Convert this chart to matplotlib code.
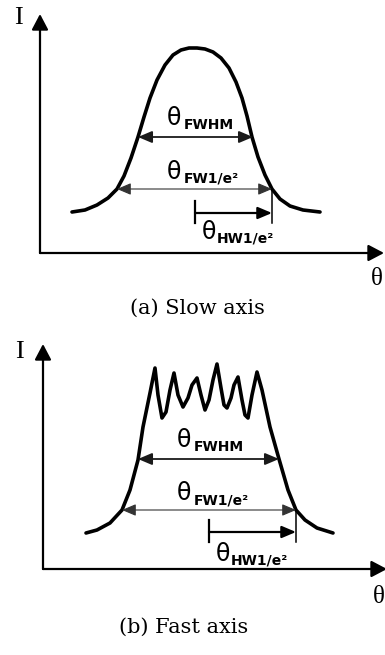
import matplotlib.pyplot as plt

# Schematic far-field profiles (pixel units, y down)
slow_x = [72, 85, 97, 108, 117, 124, 131, 138, 144, 150, 157, 165, 173, 181, 189,
          197, 205, 213, 221, 229, 236, 242, 247, 252, 258, 265, 272, 280, 290, 303, 320]
slow_y = [212, 210, 205, 198, 189, 176, 158, 137, 117, 98, 80, 65, 55, 50, 48,
          48, 49, 52, 58, 68, 82, 98, 116, 137, 157, 175, 189, 199, 206, 210, 212]

fast_x = [86, 97, 110, 122, 130, 138, 143, 150, 155, 158, 162, 166, 170, 174, 178,
          183, 188, 192, 197, 201, 205, 209, 213, 217, 221, 224, 227, 231, 234, 238,
          242, 245, 248, 252, 257, 262, 270, 279, 288, 296, 305, 317, 333]
fast_y = [533, 530, 523, 510, 490, 460, 427, 393, 368, 395, 418, 412, 390, 373, 395,
          407, 398, 385, 378, 395, 410, 400, 380, 364, 388, 405, 408, 398, 385, 377,
          400, 415, 418, 395, 372, 390, 427, 459, 490, 510, 520, 528, 533]

# panel axes: origin, y-arrow tip, x-arrow tip
slow_axes = [(40, 253), (40, 14), (384, 253)]
fast_axes = [(43, 569), (43, 344), (387, 569)]

# width markers: (x_left, x_right, y)
slow_fwhm = (138, 253, 137)
slow_fw = (117, 272, 189)
slow_hw = (195, 272, 213)
fast_fwhm = (138, 279, 459)
fast_fw = (122, 296, 510)
fast_hw = (209, 296, 532)

fig = plt.figure(figsize=(3.85, 6.55), dpi=100)
ax = fig.add_axes([0, 0, 1, 1])
ax.set_xlim(0, 385)
ax.set_ylim(655, 0)
ax.axis("off")


def arrow(p0, p1, style, lw, color="black", hl=0.9, hw=0.5):
    ax.annotate("", xy=p1, xytext=p0, annotation_clip=False,
                arrowprops=dict(arrowstyle=f"{style},head_length={hl},head_width={hw}",
                                lw=lw, color=color, shrinkA=0, shrinkB=0,
                                mutation_scale=10))


def panel(cx, cy, axes_pts, fwhm, fw, hw, ilab, tlab, caption, cap_y, lab_dy):
    o, ytip, xtip = axes_pts
    arrow(o, ytip, "-|>", 1.6, hl=0.95, hw=0.5)
    arrow(o, xtip, "-|>", 1.6, hl=0.95, hw=0.5)
    ax.plot(cx, cy, color="black", lw=2.6, solid_joinstyle="round",
            solid_capstyle="round")

    arrow((fwhm[0], fwhm[2]), (fwhm[1], fwhm[2]), "<|-|>", 1.3, "#1a1a1a", 0.85, 0.36)
    arrow((fw[0], fw[2]), (fw[1], fw[2]), "<|-|>", 0.8, "#333333", 0.85, 0.36)
    arrow((hw[0], hw[2]), (hw[1], hw[2]), "-|>", 1.6, "black", 0.85, 0.36)
    ax.plot([hw[0], hw[0]], [hw[2] - 12, hw[2] + 10], color="black", lw=1.6)
    ax.plot([fw[1], fw[1]], [fw[2], hw[2] + 10], color="black", lw=1.1)

    # labels
    tx = fwhm[0] + 29 if fwhm[1] - fwhm[0] < 130 else fwhm[0] + 39
    for (y, sub) in [(fwhm[2] - 19, "FWHM"), (fw[2] - 17, "FW1/e\u00b2")]:
        ax.text(tx, y, "\u03b8", fontsize=17, ha="left", va="center")
        ax.text(tx + 17, y + 7, sub, fontsize=10, fontweight="bold",
                ha="left", va="center")
    ax.text(hw[0] + 7, hw[2] + lab_dy, "\u03b8", fontsize=17, ha="left", va="center")
    ax.text(hw[0] + 22, hw[2] + lab_dy + 7, "HW1/e\u00b2", fontsize=10,
            fontweight="bold", ha="left", va="center")

    ax.text(ilab[0], ilab[1], "I", fontsize=19, family="Liberation Serif",
            ha="center", va="center")
    ax.text(tlab[0], tlab[1], "\u03b8", fontsize=18, family="Liberation Serif",
            ha="center", va="center")
    ax.text(caption[0], cap_y, caption[1], fontsize=15, family="DejaVu Serif",
            ha="center", va="center")


panel(slow_x, slow_y, slow_axes, slow_fwhm, slow_fw, slow_hw,
      (18, 18), (377, 279), (197, "(a) Slow axis"), 308, 19)
panel(fast_x, fast_y, fast_axes, fast_fwhm, fast_fw, fast_hw,
      (19, 352), (379, 597), (184, "(b) Fast axis"), 627, 22)

fig.savefig("out.png", dpi=100)
